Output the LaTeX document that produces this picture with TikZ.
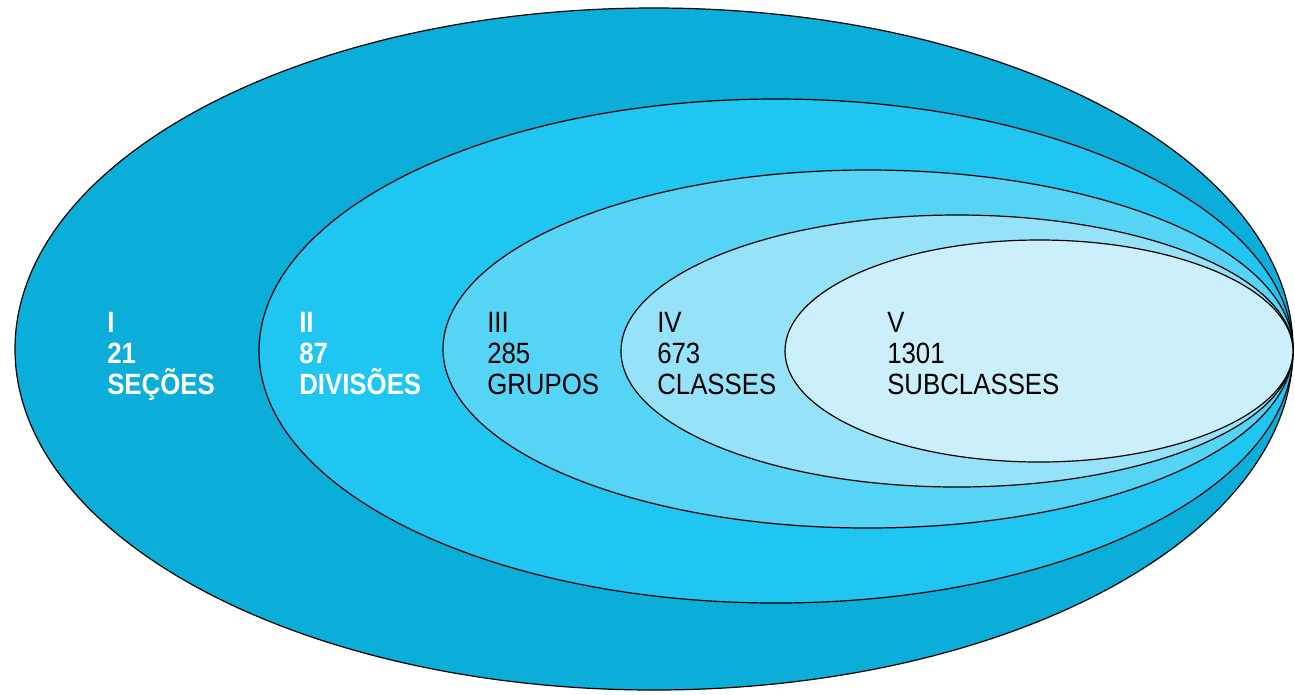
\documentclass[tikz,border=0pt]{standalone}
\usepackage{fontspec}
\setmainfont{Liberation Sans}[FakeStretch=0.88]
\begin{document}
\begin{tikzpicture}[x=0.75pt,y=-0.75pt,
  ring/.style={draw=black,line width=0.9pt},
  lab/.style={anchor=base west,align=left,inner sep=0pt,font=\fontsize{22}{23.25}\selectfont},
  wlab/.style={lab,text=white,font=\fontsize{22}{23.25}\selectfont\bfseries},
  blab/.style={lab,text=black}]
\definecolor{c1}{HTML}{0BADD9}
\definecolor{c2}{HTML}{20C6F2}
\definecolor{c3}{HTML}{56D4F5}
\definecolor{c4}{HTML}{96E2F8}
\definecolor{c5}{HTML}{CCF0FB}
\useasboundingbox (0,0) rectangle (1295,694);
\draw[ring,fill=c1] (654,349) ellipse [x radius={639*0.75pt}, y radius={341*0.75pt}];
\draw[ring,fill=c2] (776,351) ellipse [x radius={517*0.75pt}, y radius={252*0.75pt}];
\draw[ring,fill=c3] (868,349) ellipse [x radius={425*0.75pt}, y radius={179*0.75pt}];
\draw[ring,fill=c4] (957,351) ellipse [x radius={336*0.75pt}, y radius={136*0.75pt}];
\draw[ring,fill=c5] (1039,351) ellipse [x radius={254*0.75pt}, y radius={111*0.75pt}];
\node[wlab] (l1) at (107,394) {I\\21\\SEÇÕES};
\node[wlab] (l2) at (299,394) {II\\87\\DIVISÕES};
\node[blab] (l3) at (487,394) {III\\285\\GRUPOS};
\node[blab] (l4) at (657,394) {IV\\673\\CLASSES};
\node[blab] (l5) at (887,394) {V\\1301\\SUBCLASSES};
\end{tikzpicture}
\end{document}
